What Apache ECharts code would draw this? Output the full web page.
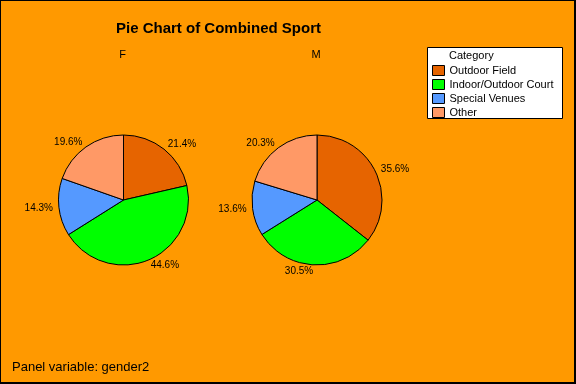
<!DOCTYPE html>
<html>
<head>
<meta charset="utf-8">
<script src="https://cdn.jsdelivr.net/npm/echarts@6/dist/echarts.min.js"></script>
<style>
html,body{margin:0;padding:0;background:#FF9900;}
#c{width:576px;height:384px;}
</style>
</head>
<body>
<div id="c"></div>
<script>
const categories = ['Outdoor Field', 'Indoor/Outdoor Court', 'Special Venues', 'Other'];
const colors = ['#E66400', '#00FF00', '#5599FF', '#FF9966'];
const panels = ['F', 'M'];
const valuesF = [21.4, 44.6, 14.3, 19.6];
const valuesM = [35.6, 30.5, 13.6, 20.3];
const panelValues = [valuesF, valuesM];
const centers = [[123.5, 200], [317, 200]];

const font = 'Liberation Sans, Arial, sans-serif';
const chart = echarts.init(document.getElementById('c'));

const series = panels.map((p, i) => ({
  type: 'pie',
  name: p,
  center: centers[i],
  radius: 65,
  startAngle: 90,
  clockwise: true,
  avoidLabelOverlap: false,
  animation: false,
  silent: true,
  itemStyle: {borderColor: '#000', borderWidth: 1},
  label: {
    show: true, position: 'outside', formatter: '{c}%',
    color: '#000', fontFamily: font, fontSize: 10,
    distanceToLabelLine: 0
  },
  labelLine: {show: false, length: 6, length2: 0},
  emphasis: {disabled: true},
  data: categories.map((c, k) => ({name: c, value: panelValues[i][k], itemStyle: {color: colors[k]}}))
}));

chart.setOption({
  backgroundColor: '#FF9900',
  animation: false,
  title: [
    {text: 'Pie Chart of Combined Sport', left: 218.5, top: 21, textAlign: 'center', padding: 0,
     textStyle: {fontFamily: font, fontSize: 15, fontWeight: 'bold', color: '#000'}},
    {text: panels[0], left: centers[0][0] - 1, top: 49, textAlign: 'center', padding: 0,
     textStyle: {fontFamily: font, fontSize: 11, fontWeight: 'normal', color: '#000'}},
    {text: panels[1], left: centers[1][0] - 1, top: 49, textAlign: 'center', padding: 0,
     textStyle: {fontFamily: font, fontSize: 11, fontWeight: 'normal', color: '#000'}},
    {text: 'Panel variable: gender2', left: 12, top: 361, padding: 0,
     textStyle: {fontFamily: font, fontSize: 13, fontWeight: 'normal', color: '#000'}}
  ],
  legend: {
    orient: 'vertical', left: 432, top: 65, padding: 0,
    itemWidth: 12, itemHeight: 10, itemGap: 3,
    icon: 'rect',
    itemStyle: {borderColor: '#000', borderWidth: 1},
    textStyle: {fontFamily: font, fontSize: 11, color: '#000'},
    data: categories,
    selectedMode: false
  },
  graphic: [
    {type: 'rect', shape: {x: 427.5, y: 47.5, width: 135, height: 71},
     style: {fill: '#fff', stroke: '#000', lineWidth: 1}, z: 0, silent: true},
    {type: 'text', x: 449, y: 56, style: {text: 'Category', font: '11px ' + font, fill: '#000', textVerticalAlign: 'middle'}, z: 1, silent: true},
    {type: 'rect', shape: {x: 0, y: 0, width: 575, height: 383},
     style: {fill: null, stroke: '#000', lineWidth: 2}, z: 10, silent: true}
  ],
  series: series
});
</script>
</body>
</html>
